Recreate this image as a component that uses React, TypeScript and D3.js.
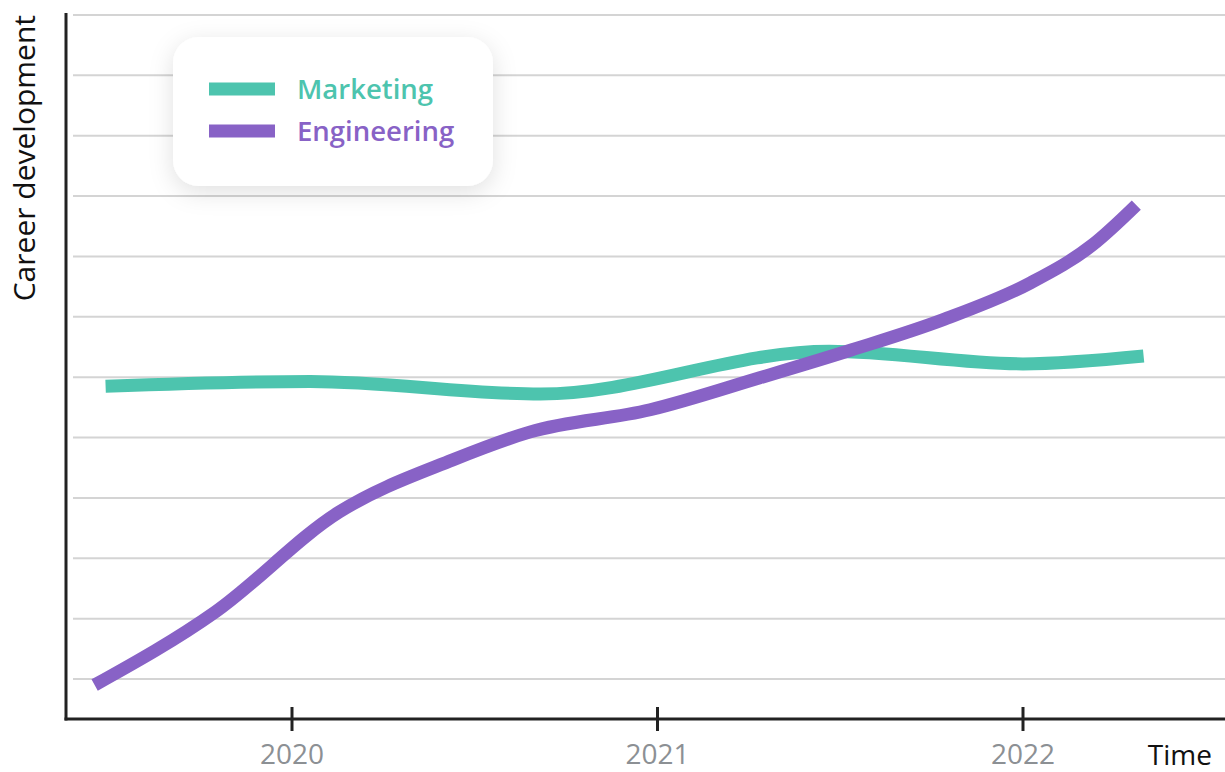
import { useRef, useEffect } from 'react'
import * as d3 from 'd3'

// decimal years on x, arbitrary "development" units on y
const seriesNames = ['Marketing', 'Engineering']
const seriesColors = ['#4dc4ae', '#8862c6']

const marketingX = [2019.49, 2020.05, 2020.68, 2021.47, 2022.0, 2022.33]
const marketingY = [4.85, 4.93, 4.72, 5.43, 5.22, 5.35]

const engineeringX = [2019.46, 2019.79, 2020.13, 2020.44, 2020.65, 2020.98, 2021.28, 2021.53, 2021.78, 2022.02, 2022.19, 2022.31]
const engineeringY = [-0.1, 1.11, 2.77, 3.63, 4.09, 4.46, 4.99, 5.45, 5.95, 6.56, 7.19, 7.85]

const xTicks = [2020, 2021, 2022]
const gridValues = d3.range(0, 12)

const WIDTH = 1225
const HEIGHT = 772
const FONT = '"Open Sans", "Noto Sans", sans-serif'

export default function App() {
  const svgRef = useRef<SVGSVGElement>(null)

  useEffect(() => {
    if (!svgRef.current) return
    document.body.style.margin = '0'

    const svg = d3.select(svgRef.current)
    svg.selectAll('*').remove()

    const left = 66
    const axisY = 719

    const x = d3.scaleLinear().domain([2020, 2022]).range([292, 1023])
    const y = d3.scaleLinear().domain([0, 11]).range([679, 15])

    // drop shadow for the legend card
    const defs = svg.append('defs')
    const filter = defs.append('filter').attr('id', 'legendShadow')
      .attr('x', '-30%').attr('y', '-40%').attr('width', '160%').attr('height', '180%')
    filter.append('feDropShadow')
      .attr('dx', 0).attr('dy', 6).attr('stdDeviation', 12)
      .attr('flood-color', '#000').attr('flood-opacity', 0.12)

    // grid
    svg.append('g')
      .selectAll('line')
      .data(gridValues)
      .join('line')
      .attr('x1', left + 7).attr('x2', WIDTH)
      .attr('y1', (d) => y(d)).attr('y2', (d) => y(d))
      .attr('stroke', '#d4d4d4')
      .attr('stroke-width', 2)

    // lines
    const line = d3.line<[number, number]>()
      .x((d) => x(d[0]))
      .y((d) => y(d[1]))
      .curve(d3.curveMonotoneX)

    const series: [number, number][][] = [
      marketingX.map((v, i) => [v, marketingY[i]] as [number, number]),
      engineeringX.map((v, i) => [v, engineeringY[i]] as [number, number]),
    ]

    svg.append('g')
      .selectAll('path')
      .data(series)
      .join('path')
      .attr('d', (d) => line(d))
      .attr('fill', 'none')
      .attr('stroke', (_, i) => seriesColors[i])
      .attr('stroke-width', 13)

    // axes
    const axes = svg.append('g').attr('stroke', '#222').attr('stroke-width', 3)
    axes.append('line').attr('x1', left).attr('x2', left).attr('y1', 13).attr('y2', axisY + 1.5)
    axes.append('line').attr('x1', left - 1.5).attr('x2', WIDTH).attr('y1', axisY).attr('y2', axisY)
    axes.selectAll('.tick')
      .data(xTicks)
      .join('line')
      .attr('x1', (d) => x(d)).attr('x2', (d) => x(d))
      .attr('y1', axisY - 12).attr('y2', axisY + 12)

    svg.append('g')
      .selectAll('text')
      .data(xTicks)
      .join('text')
      .attr('x', (d) => x(d))
      .attr('y', 764)
      .attr('text-anchor', 'middle')
      .attr('font-family', FONT)
      .attr('font-size', 28)
      .attr('fill', '#8c9094')
      .text((d) => String(d))

    svg.append('text')
      .attr('x', 1212).attr('y', 765)
      .attr('text-anchor', 'end')
      .attr('font-family', FONT)
      .attr('font-size', 28)
      .attr('fill', '#111')
      .text('Time')

    svg.append('text')
      .attr('transform', 'translate(35,15) rotate(-90)')
      .attr('text-anchor', 'end')
      .attr('font-family', FONT)
      .attr('font-size', 30)
      .attr('fill', '#111')
      .text('Career development')

    // legend
    const lg = svg.append('g')
    lg.append('rect')
      .attr('x', 173).attr('y', 37).attr('width', 320).attr('height', 149)
      .attr('rx', 26)
      .attr('fill', '#fff')
      .attr('filter', 'url(#legendShadow)')

    seriesNames.forEach((name, i) => {
      const cy = 89 + i * 42
      lg.append('line')
        .attr('x1', 209).attr('x2', 275)
        .attr('y1', cy).attr('y2', cy)
        .attr('stroke', seriesColors[i])
        .attr('stroke-width', 13)
      lg.append('text')
        .attr('x', 297).attr('y', cy + 10)
        .attr('font-family', FONT)
        .attr('font-size', 27.5)
        .attr('font-weight', 600)
        .attr('fill', seriesColors[i])
        .text(name)
    })
  }, [])

  return <svg ref={svgRef} width={WIDTH} height={HEIGHT} style={{ display: 'block' }} />
}
